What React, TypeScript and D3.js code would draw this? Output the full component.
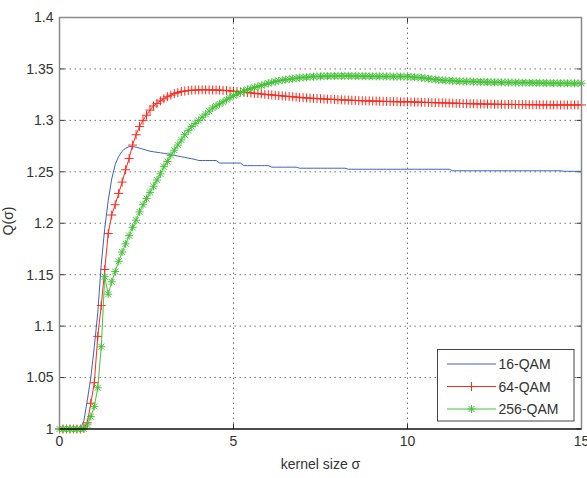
import React, { useEffect, useRef } from "react";
import * as d3 from "d3";

// sigma grid, one sample every 0.1 from 0 to 15
const sigma = d3.range(151).map((i) => i / 10);

const qam16 = [
  1, 1, 1, 1, 1, 1, 1, 1.008, 1.028, 1.05,
  1.08, 1.113, 1.16, 1.195, 1.222, 1.243, 1.257, 1.265, 1.27, 1.273,
  1.2745, 1.2745, 1.274, 1.273, 1.272, 1.271, 1.27, 1.2695, 1.269, 1.2685,
  1.268, 1.2673, 1.2667, 1.266, 1.2653, 1.2647, 1.264, 1.2633, 1.2627, 1.262,
  1.261, 1.261, 1.261, 1.261, 1.261, 1.261, 1.2585, 1.2585, 1.2585, 1.2585,
  1.2585, 1.2585, 1.2585, 1.256, 1.256, 1.256, 1.256, 1.256, 1.256, 1.256,
  1.256, 1.2545, 1.2545, 1.2545, 1.2545, 1.2545, 1.2545, 1.2545, 1.2545, 1.2535,
  1.2535, 1.2535, 1.2535, 1.2535, 1.2535, 1.2535, 1.2535, 1.2535, 1.2535, 1.2535,
  1.2535, 1.2535, 1.2535, 1.2525, 1.2525, 1.2525, 1.2525, 1.2525, 1.2525, 1.2525,
  1.2525, 1.2525, 1.2525, 1.2525, 1.2525, 1.2525, 1.2525, 1.2525, 1.2525, 1.2525,
  1.2525, 1.2525, 1.2525, 1.2525, 1.2525, 1.2525, 1.2525, 1.2525, 1.2525, 1.2525,
  1.2525, 1.2525, 1.2525, 1.251, 1.251, 1.251, 1.251, 1.251, 1.251, 1.251,
  1.251, 1.251, 1.251, 1.251, 1.251, 1.251, 1.251, 1.251, 1.251, 1.251,
  1.251, 1.251, 1.251, 1.251, 1.251, 1.251, 1.251, 1.251, 1.251, 1.251,
  1.251, 1.251, 1.251, 1.251, 1.251, 1.2505, 1.2505, 1.2505, 1.2505, 1.2505,
  1.2505,
];

const qam64 = [
  1, 1, 1, 1, 1, 1, 1, 1.001, 1.006, 1.025,
  1.045, 1.09, 1.12, 1.155, 1.19, 1.208, 1.218, 1.229, 1.24, 1.252,
  1.263, 1.276, 1.286, 1.294, 1.3, 1.305, 1.31, 1.314, 1.3165, 1.319,
  1.321, 1.323, 1.3245, 1.326, 1.327, 1.328, 1.3285, 1.329, 1.3293, 1.3295,
  1.3296, 1.3297, 1.3297, 1.3296, 1.3296, 1.3295, 1.3294, 1.3292, 1.329, 1.3286,
  1.3283, 1.328, 1.3277, 1.3273, 1.327, 1.3267, 1.3263, 1.326, 1.3257, 1.3253,
  1.325, 1.3247, 1.3244, 1.3241, 1.3238, 1.3235, 1.3232, 1.3229, 1.3226, 1.3223,
  1.322, 1.3218, 1.3216, 1.3214, 1.3212, 1.321, 1.3208, 1.3206, 1.3205, 1.3203,
  1.3201, 1.32, 1.3198, 1.3197, 1.3195, 1.3194, 1.3192, 1.3191, 1.319, 1.3189,
  1.3188, 1.3187, 1.3186, 1.3185, 1.3184, 1.3183, 1.3182, 1.3181, 1.318, 1.318,
  1.318, 1.3179, 1.3178, 1.3177, 1.3176, 1.3175, 1.3174, 1.3173, 1.3172, 1.3171,
  1.317, 1.3169, 1.3168, 1.3167, 1.3166, 1.3165, 1.3164, 1.3163, 1.3162, 1.3161,
  1.316, 1.316, 1.3159, 1.3158, 1.3158, 1.3157, 1.3156, 1.3156, 1.3155, 1.3155,
  1.3155, 1.3154, 1.3154, 1.3153, 1.3153, 1.3152, 1.3152, 1.3152, 1.3151, 1.3151,
  1.3151, 1.315, 1.315, 1.315, 1.315, 1.315, 1.315, 1.315, 1.315, 1.315,
  1.315,
];

const qam256 = [
  1, 1, 1, 1, 1, 1, 1, 1, 1.004, 1.012,
  1.022, 1.04, 1.08, 1.148, 1.131, 1.143, 1.153, 1.163, 1.172, 1.18,
  1.188, 1.196, 1.203, 1.211, 1.218, 1.224, 1.23, 1.236, 1.242, 1.248,
  1.255, 1.26, 1.266, 1.271, 1.276, 1.281, 1.286, 1.29, 1.294, 1.297,
  1.3, 1.303, 1.306, 1.309, 1.312, 1.314, 1.316, 1.318, 1.32, 1.322,
  1.324, 1.3255, 1.327, 1.3285, 1.33, 1.331, 1.332, 1.333, 1.334, 1.335,
  1.336, 1.337, 1.3378, 1.3385, 1.339, 1.3397, 1.34, 1.3405, 1.341, 1.3414,
  1.3418, 1.342, 1.3423, 1.3425, 1.3427, 1.3428, 1.343, 1.343, 1.3431, 1.3431,
  1.3432, 1.3432, 1.3432, 1.3432, 1.3431, 1.3431, 1.343, 1.343, 1.343, 1.3429,
  1.3429, 1.3428, 1.3428, 1.3427, 1.3427, 1.3426, 1.3426, 1.3425, 1.3425, 1.3425,
  1.3424, 1.3422, 1.342, 1.3417, 1.3414, 1.341, 1.3405, 1.3401, 1.3397, 1.3394,
  1.339, 1.3388, 1.3386, 1.3384, 1.3382, 1.338, 1.3379, 1.3378, 1.3377, 1.3376,
  1.3375, 1.3374, 1.3373, 1.3372, 1.3371, 1.337, 1.337, 1.3369, 1.3369, 1.3368,
  1.3368, 1.3367, 1.3367, 1.3366, 1.3366, 1.3365, 1.3365, 1.3364, 1.3364, 1.3363,
  1.3363, 1.3362, 1.3362, 1.3362, 1.3361, 1.3361, 1.3361, 1.336, 1.336, 1.336,
  1.336,
];

const seriesNames = ["16-QAM", "64-QAM", "256-QAM"];
const seriesColors = ["#3a62c6", "#ff2a1c", "#45c238"];
const xTicks = [0, 5, 10, 15];
const yTicks = [1, 1.05, 1.1, 1.15, 1.2, 1.25, 1.3, 1.35, 1.4];

const W = 587, H = 478;
const margin = { top: 17.5, right: 5.5, bottom: 49, left: 59.5 };
const FONT = "Arial, 'Liberation Sans', Helvetica, sans-serif";

const PLUS = "M-4.5,0H4.5M0,-4.5V4.5";
const STAR = "M-4,0H4M0,-4V4M-3,-3L3,3M-3,3L3,-3";

export default function App() {
  const ref = useRef<SVGSVGElement>(null);

  useEffect(() => {
    const svg = d3.select(ref.current);
    svg.selectAll("*").remove();
    const width = W - margin.left - margin.right;
    const height = H - margin.top - margin.bottom;
    const g = svg.append("g").attr("transform", "translate(" + margin.left + "," + margin.top + ")");

    const x = d3.scaleLinear().domain([0, 15]).range([0, width]);
    const y = d3.scaleLinear().domain([1, 1.4]).range([height, 0]);

    g.append("rect").attr("width", width).attr("height", height).attr("fill", "#fff");

    // dotted grid
    g.append("g").selectAll("line").data(xTicks.slice(1, -1)).enter().append("line")
      .attr("x1", (d) => x(d)).attr("x2", (d) => x(d)).attr("y1", 0).attr("y2", height)
      .attr("stroke", "#777").attr("stroke-dasharray", "1.5,3.5");
    g.append("g").selectAll("line").data(yTicks.slice(1, -1)).enter().append("line")
      .attr("y1", (d) => y(d)).attr("y2", (d) => y(d)).attr("x1", 0).attr("x2", width)
      .attr("stroke", "#777").attr("stroke-dasharray", "1.5,3.5");

    // inward ticks on all four sides
    const tk = 5;
    const ticks = g.append("g").attr("stroke", "#333");
    xTicks.forEach((t) => {
      ticks.append("line").attr("x1", x(t)).attr("x2", x(t)).attr("y1", height).attr("y2", height - tk);
      ticks.append("line").attr("x1", x(t)).attr("x2", x(t)).attr("y1", 0).attr("y2", tk);
    });
    yTicks.forEach((t) => {
      ticks.append("line").attr("y1", y(t)).attr("y2", y(t)).attr("x1", 0).attr("x2", tk);
      ticks.append("line").attr("y1", y(t)).attr("y2", y(t)).attr("x1", width).attr("x2", width - tk);
    });

    // curves
    const data = [qam16, qam64, qam256];
    const line = d3.line<number>().x((d, i) => x(sigma[i])).y((d) => y(d));
    data.forEach((vals, k) => {
      g.append("path").datum(vals).attr("d", line).attr("fill", "none")
        .attr("stroke", seriesColors[k]).attr("stroke-width", 1);
      if (k > 0) {
        g.append("g").selectAll("path").data(vals).enter().append("path")
          .attr("transform", (d, i) => "translate(" + x(sigma[i]) + "," + y(d) + ")")
          .attr("d", k === 1 ? PLUS : STAR)
          .attr("fill", "none").attr("stroke", seriesColors[k]).attr("stroke-width", 1);
      }
    });

    // box
    g.append("path").attr("d", "M0," + height + "V0H" + width + "V" + height)
      .attr("fill", "none").attr("stroke", "#8a8a8a").attr("stroke-width", 1.5);
    g.append("line").attr("x1", 0).attr("x2", width).attr("y1", height).attr("y2", height)
      .attr("stroke", "#111").attr("stroke-width", 1.5);

    // tick labels
    g.append("g").selectAll("text").data(xTicks).enter().append("text")
      .attr("x", (d) => x(d)).attr("y", height + 17).attr("text-anchor", "middle")
      .attr("font-family", FONT).attr("font-size", 14).attr("fill", "#333")
      .text((d) => String(d));
    g.append("g").selectAll("text").data(yTicks).enter().append("text")
      .attr("x", -6).attr("y", (d) => y(d)).attr("dy", "0.35em").attr("text-anchor", "end")
      .attr("font-family", FONT).attr("font-size", 14).attr("fill", "#333")
      .text((d) => String(d));

    // axis titles
    svg.append("text").attr("x", margin.left + width / 2).attr("y", 469)
      .attr("text-anchor", "middle").attr("font-family", FONT).attr("font-size", 14).attr("fill", "#333")
      .text("kernel size σ");
    svg.append("text").attr("transform", "translate(13,221) rotate(-90)")
      .attr("text-anchor", "middle").attr("font-family", FONT).attr("font-size", 14).attr("fill", "#333")
      .text("Q(σ)");

    // legend
    const lg = svg.append("g").attr("transform", "translate(437.5,349.5)");
    lg.append("rect").attr("width", 136.5).attr("height", 71.5).attr("fill", "#fff")
      .attr("stroke", "#444").attr("stroke-width", 1);
    seriesNames.forEach((name, k) => {
      const yy = 14.5 + k * 22.5;
      lg.append("line").attr("x1", 9.5).attr("x2", 58.5).attr("y1", yy).attr("y2", yy)
        .attr("stroke", seriesColors[k]).attr("stroke-width", 1);
      if (k > 0) {
        lg.append("path").attr("transform", "translate(34," + yy + ")")
          .attr("d", k === 1 ? PLUS : STAR).attr("fill", "none")
          .attr("stroke", seriesColors[k]).attr("stroke-width", 1);
      }
      lg.append("text").attr("x", 61).attr("y", yy).attr("dy", "0.36em")
        .attr("font-family", FONT).attr("font-size", 14).attr("fill", "#333").text(name);
    });
  }, []);

  return (
    <svg ref={ref} width={W} height={H} viewBox={"0 0 " + W + " " + H}
      style={{ position: "absolute", left: 0, top: 0, background: "#fff" }} />
  );
}
